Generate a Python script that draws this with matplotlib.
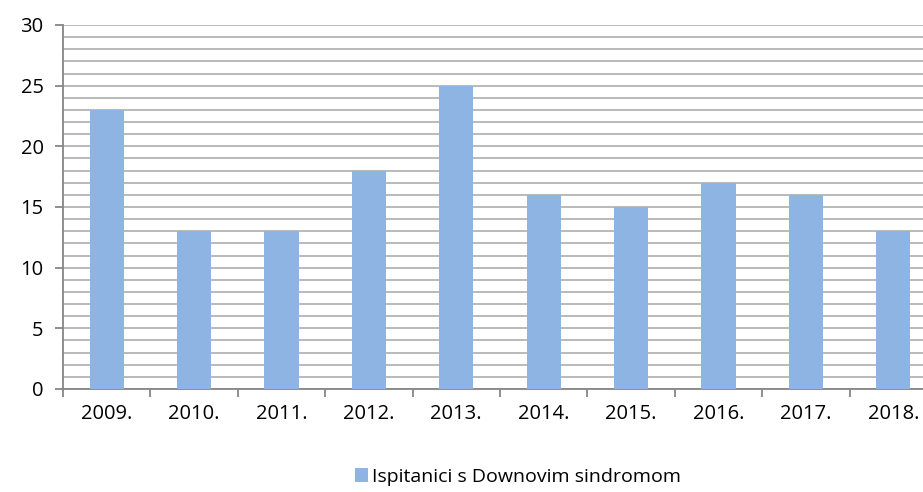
import matplotlib
matplotlib.use("Agg")
import matplotlib.pyplot as plt
from matplotlib.ticker import MultipleLocator
import numpy as np

years = ["2009.", "2010.", "2011.", "2012.", "2013.", "2014.", "2015.", "2016.", "2017.", "2018."]
values = [23, 13, 13, 18, 25, 16, 15, 17, 16, 13]
series_name = "Ispitanici s Downovim sindromom"

plt.rcParams['font.family'] = ['Open Sans', 'DejaVu Sans']

W, H = 923, 492
fig = plt.figure(figsize=(W / 100, H / 100), dpi=100)
ax = fig.add_axes([63 / W, (H - 389) / H, 874 / W, 364 / H])

x = np.arange(len(years))
bars = ax.bar(x, values, width=0.39, color="#8EB4E3", label=series_name, zorder=3)

ax.set_xlim(-0.5, len(years) - 0.5)
ax.set_ylim(0, 30)
ax.yaxis.set_major_locator(MultipleLocator(5))
ax.yaxis.set_minor_locator(MultipleLocator(1))
ax.grid(axis='y', which='both', color="#B4B4B4", linewidth=1.3, zorder=0)
ax.set_axisbelow(True)

for s in ['top', 'right']:
    ax.spines[s].set_visible(False)
for s in ['left', 'bottom']:
    ax.spines[s].set_color("#868686")
    ax.spines[s].set_linewidth(1.3)

ax.set_xticks(x)
ax.set_xticklabels(years)
ax.set_xticks(np.arange(len(years) + 1) - 0.5, minor=True)
ax.tick_params(axis='x', which='major', length=0, pad=11, labelsize=14.5)
ax.tick_params(axis='x', which='minor', length=6, color="#868686", width=1.3)
ax.tick_params(axis='y', which='major', length=6, color="#868686", width=1.3, labelsize=14.5, pad=8)
ax.tick_params(axis='y', which='minor', length=0)

fig.legend(handles=[bars], labels=[series_name], loc='center', bbox_to_anchor=(518 / W, 1 - 477 / H),
           frameon=False, fontsize=14, handlelength=0.7, handleheight=0.7, handletextpad=0.2)

fig.savefig("out.png", dpi=100)
